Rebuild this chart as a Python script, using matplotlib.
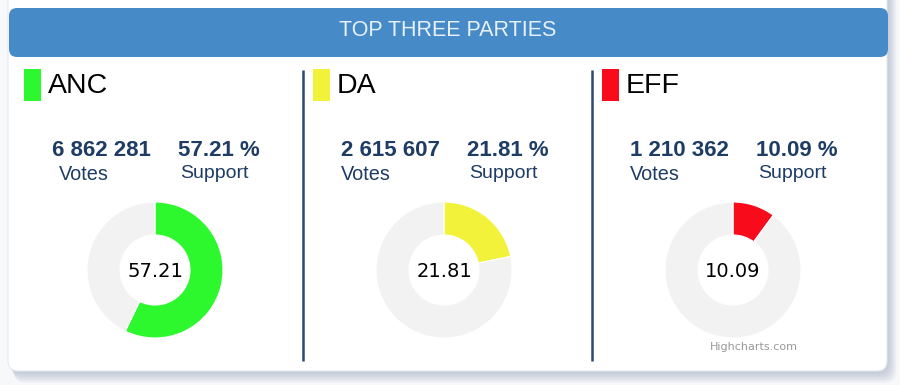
import matplotlib
matplotlib.use("Agg")
import matplotlib.pyplot as plt
from matplotlib.patches import FancyBboxPatch, Rectangle

# ---- data ----
parties = ["ANC", "DA", "EFF"]
votes = [6862281, 2615607, 1210362]
support = [57.21, 21.81, 10.09]
party_colors = ["#2DF82E", "#F2F23A", "#F80C1C"]
title = "TOP THREE PARTIES"
votes_label = "Votes"
support_label = "Support"
credit = "Highcharts.com"

# ---- layout constants (pixels) ----
W, H = 900, 385
PANEL_W = 289
NAVY = "#1E3C64"
REST = "#F2F2F2"

fig = plt.figure(figsize=(W / 100, H / 100), dpi=100)
fig.patch.set_facecolor("#F7F8FA")
bg = fig.add_axes([0, 0, 1, 1])
bg.set_xlim(0, W)
bg.set_ylim(H, 0)
bg.axis("off")

# shadow
for i in range(8):
    off = 1.5 + i * 1.5
    bg.add_patch(FancyBboxPatch((8 + off * 0.5, -20 + off), 879 + off * 0.3, 391,
                                boxstyle="round,pad=0,rounding_size=12",
                                fc="#8A9BB3", ec="none", alpha=0.07, zorder=1))
# card
bg.add_patch(FancyBboxPatch((8, -20), 879, 391, boxstyle="round,pad=0,rounding_size=10",
                            fc="white", ec="#E6E9EE", lw=0.8, zorder=2))
# header
bg.add_patch(FancyBboxPatch((9, 8), 879, 49, boxstyle="round,pad=0,rounding_size=8",
                            fc="#468BC8", ec="none", zorder=3))
bg.text(448, 31, title, ha="center", va="center", fontsize=15.5,
        family="Liberation Sans", color="#E8F0F8", zorder=4)

# dividers
for k in (1, 2):
    x = 14 + k * PANEL_W
    bg.plot([x, x], [70, 361], color="#2C4A70", lw=1.8, zorder=4, solid_capstyle="butt")

def fmt(v):
    return f"{v:,}".replace(",", " ")

for i, (p, v, s, c) in enumerate(zip(parties, votes, support, party_colors)):
    x0 = i * PANEL_W
    bg.add_patch(Rectangle((x0 + 24, 69), 17, 32, fc=c, ec="none", zorder=4))
    bg.text(x0 + 48, 86, p, ha="left", va="center", fontsize=20.5,
            family="Liberation Sans", color="black", zorder=4)
    bg.text(x0 + 52, 151, fmt(v), ha="left", va="center", fontsize=16, fontweight="bold",
            family="Liberation Sans", color=NAVY, zorder=4)
    bg.text(x0 + 52 + (7 if i == 0 else 0), 174, votes_label, ha="left", va="center",
            fontsize=14.3, family="Liberation Sans", color=NAVY, zorder=4)
    bg.text(x0 + 178, 151, f"{s:.2f} %", ha="left", va="center", fontsize=16,
            fontweight="bold", family="Liberation Sans", color=NAVY, zorder=4)
    bg.text(x0 + 180, 174, support_label, ha="left", va="center", fontsize=14,
            family="Liberation Sans", color=NAVY, zorder=4)

    # donut
    cx, cy, r = x0 + 155, 270, 68
    ax = fig.add_axes([(cx - r) / W, (H - cy - r) / H, 2 * r / W, 2 * r / H])
    ax.pie([s, 100 - s], colors=[c, REST], startangle=90, counterclock=False, radius=1,
           wedgeprops=dict(width=33 / 68, edgecolor="white", linewidth=0.8))
    ax.set_xlim(-1, 1)
    ax.set_ylim(-1, 1)
    ax.set_aspect("equal")
    ax.axis("off")
    ax.text(0, -0.02, f"{s:.2f}", ha="center", va="center", fontsize=14,
            family="DejaVu Sans", color="black")

bg.text(754, 347, credit, ha="center", va="center", fontsize=8, family="DejaVu Sans",
        color="#999999", zorder=4)

fig.savefig("out.png", dpi=100, facecolor=fig.get_facecolor())
